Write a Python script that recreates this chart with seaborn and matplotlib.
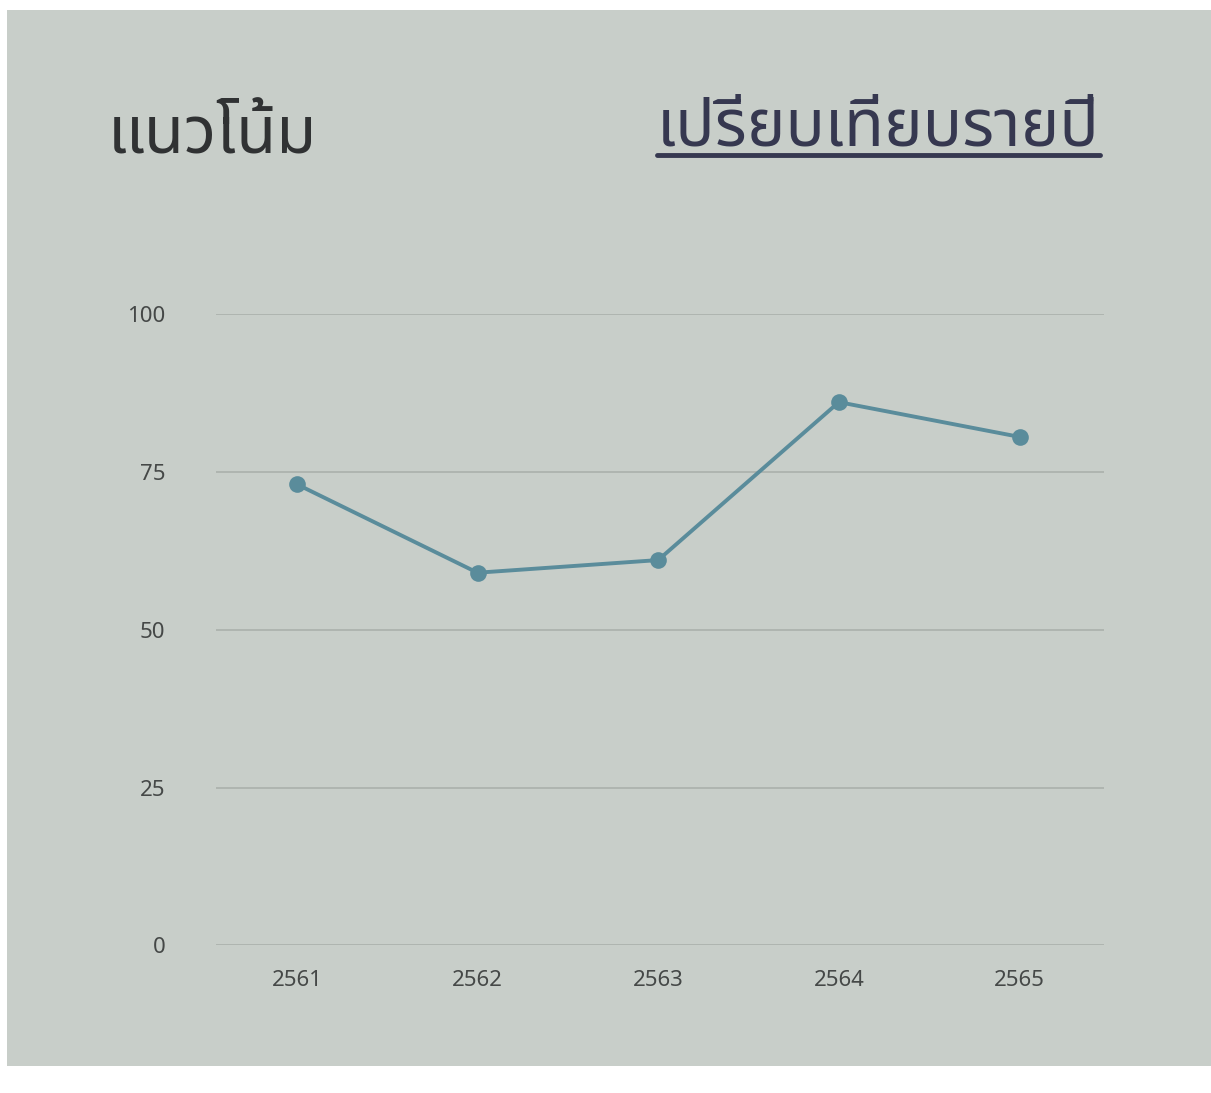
import matplotlib
matplotlib.use("Agg")
import matplotlib.pyplot as plt
import seaborn as sns
import pandas as pd

years = ["2561", "2562", "2563", "2564", "2565"]
values = [73, 59, 61, 86, 80.5]
y_ticks = [0, 25, 50, 75, 100]

title_left = "แนวโน้ม"
title_right = "เปรียบเทียบรายปี"

sns.set_theme(style="white")
plt.rcParams["font.family"] = ["Noto Sans Thai", "DejaVu Sans"]

paper = "#c8cec9"
fig = plt.figure(figsize=(12.11, 10.93), dpi=100, facecolor="white")
# กระดาษ (ขอบขาวของภาพถ่าย)
fig.add_artist(plt.Rectangle((0.006, 0.025), 0.994, 0.966, transform=fig.transFigure,
                             facecolor=paper, edgecolor="none", zorder=-10))

ax = fig.add_axes([0.178, 0.135, 0.734, 0.578])
ax.set_facecolor("none")

df = pd.DataFrame({"year": years, "value": values})
sns.lineplot(data=df, x="year", y="value", ax=ax, color="#5a8c9b", linewidth=2.8,
             marker="o", markersize=12, markeredgewidth=0)

ax.set_ylim(0, 100)
ax.set_xlim(-0.45, 4.47)
ax.set_yticks(y_ticks)
ax.yaxis.grid(True, color="#abb0ab", linewidth=1.2)
ax.set_axisbelow(True)
ax.set_xlabel("")
ax.set_ylabel("")
for s in ax.spines.values():
    s.set_visible(False)
ax.tick_params(axis="both", length=0, labelsize=16, labelcolor="#454847")
ax.tick_params(axis="y", pad=36)
ax.tick_params(axis="x", pad=18)
for lab in ax.get_xticklabels() + ax.get_yticklabels():
    lab.set_fontweight("semibold")

fig.text(0.089, 0.860, title_left, fontsize=47, color="#303233", va="baseline")
t = fig.text(0.908, 0.867, title_right, fontsize=47, color="#363850", va="baseline", ha="right")

# ขีดเส้นใต้หัวข้อด้านขวา
fig.canvas.draw()
bb = t.get_window_extent().transformed(fig.transFigure.inverted())
fig.add_artist(plt.Line2D([bb.x0, bb.x1], [0.858, 0.858], transform=fig.transFigure,
                          color="#363850", linewidth=3.5))

fig.savefig("out.png", dpi=100, facecolor="white")
